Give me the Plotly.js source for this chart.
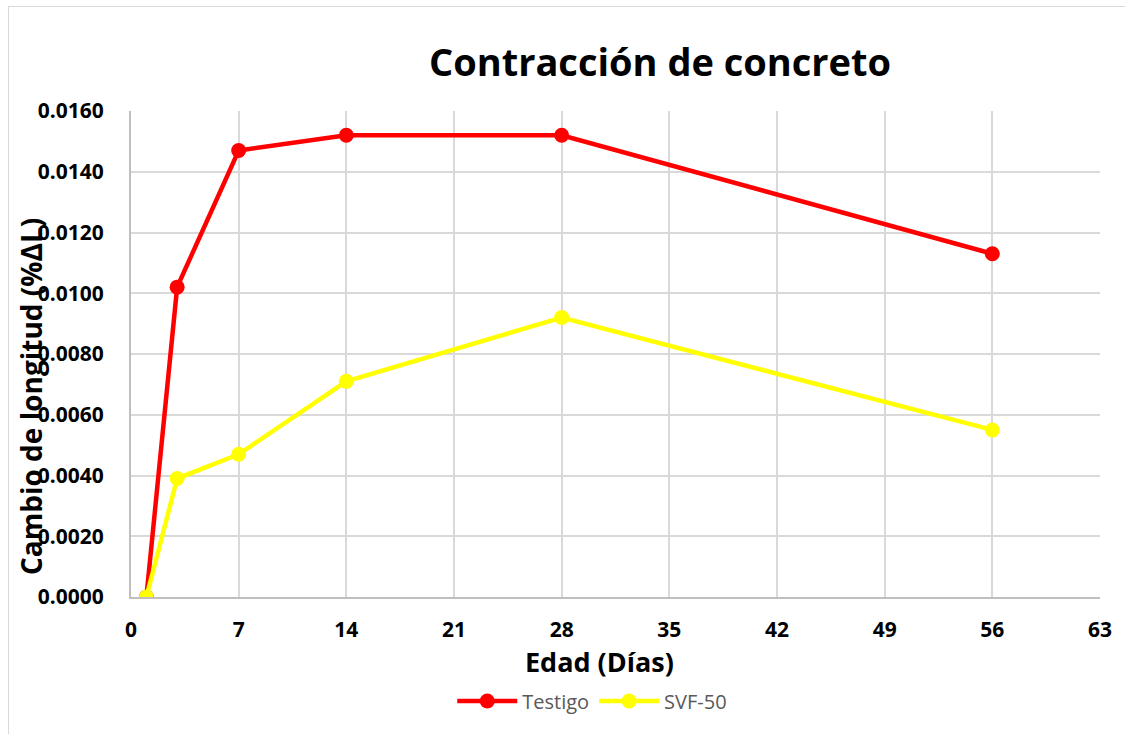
<!DOCTYPE html>
<html><head><meta charset="utf-8">
<script src="https://cdn.plot.ly/plotly-3.0.1.min.js"></script>
<style>
html,body{margin:0;padding:0;background:#fff;}
#wrap{position:relative;width:1125px;height:734px;overflow:hidden;}
#chart{position:absolute;left:0;top:0;width:1125px;height:734px;}
#frame{position:absolute;left:8px;top:6px;width:1140px;height:760px;border:1px solid #d9d9d9;pointer-events:none;}
</style></head>
<body><div id="wrap"><div id="chart"></div><div id="frame"></div></div>
<script>
const edad = [1, 3, 7, 14, 28, 56];
const testigo = [0.0000, 0.0102, 0.0147, 0.0152, 0.0152, 0.0113];
const svf50 = [0.0000, 0.0039, 0.0047, 0.0071, 0.0092, 0.0055];
const xTicks = [0, 7, 14, 21, 28, 35, 42, 49, 56, 63];
const yTicks = [0, 0.002, 0.004, 0.006, 0.008, 0.010, 0.012, 0.014, 0.016];
const fontFam = "'Open Sans', 'Liberation Sans', sans-serif";

const traces = [
  {x: edad, y: testigo, name: 'Testigo', mode: 'lines+markers', type: 'scatter',
   line: {color: '#ff0000', width: 4.5}, marker: {color: '#ff0000', size: 15}},
  {x: edad, y: svf50, name: 'SVF-50', mode: 'lines+markers', type: 'scatter',
   line: {color: '#ffff00', width: 4.5}, marker: {color: '#ffff00', size: 15}}
];
const layout = {
  width: 1125, height: 734,
  paper_bgcolor: 'rgba(0,0,0,0)', plot_bgcolor: '#fff',
  margin: {l: 131, r: 25, t: 111, b: 137},
  font: {family: fontFam, color: '#000'},
  showlegend: true,
  legend: {orientation: 'h', x: 0.476, xanchor: 'center', y: -0.214, yanchor: 'middle',
    font: {size: 20, color: '#595959', family: fontFam}, itemwidth: 60},
  xaxis: {range: [0, 63], tickvals: xTicks, ticktext: xTicks.map(String),
    showgrid: true, gridcolor: '#d9d9d9', gridwidth: 2, zeroline: false,
    showline: true, linecolor: '#bfbfbf', linewidth: 2, ticks: '',
    ticklabelstandoff: 13, tickfont: {size: 21, family: fontFam, weight: 'bold', color: '#000'}},
  yaxis: {range: [0, 0.016], tickvals: yTicks, ticktext: yTicks.map(v => v.toFixed(4)),
    showgrid: true, gridcolor: '#d9d9d9', gridwidth: 2, zeroline: false,
    showline: true, linecolor: '#bfbfbf', linewidth: 2, ticks: '',
    ticklabelstandoff: 21, tickfont: {size: 21, family: fontFam, weight: 'bold', color: '#000'}},
  title: {text: '<b>Contracción de concreto</b>', font: {size: 38, family: fontFam, color: '#000'},
    x: 660/1125, xref: 'container', xanchor: 'center', y: 1-63/734, yref: 'container', yanchor: 'middle'},
  annotations: [
    {text: '<b>Edad (Días)</b>', xref: 'paper', yref: 'paper', x: (599-131)/969, y: (597-661)/486,
     xanchor: 'center', yanchor: 'middle', showarrow: false, font: {size: 27, family: fontFam, color: '#000'}},
    {text: '<b>Cambio de longitud (%ΔL)</b>', xref: 'paper', yref: 'paper', x: (31-131)/969, y: (597-397)/486,
     xanchor: 'center', yanchor: 'middle', textangle: -90, showarrow: false, font: {size: 28, family: fontFam, color: '#000'}}
  ]
};
Plotly.newPlot('chart', traces, layout, {displayModeBar: false, staticPlot: true});
</script></body></html>
